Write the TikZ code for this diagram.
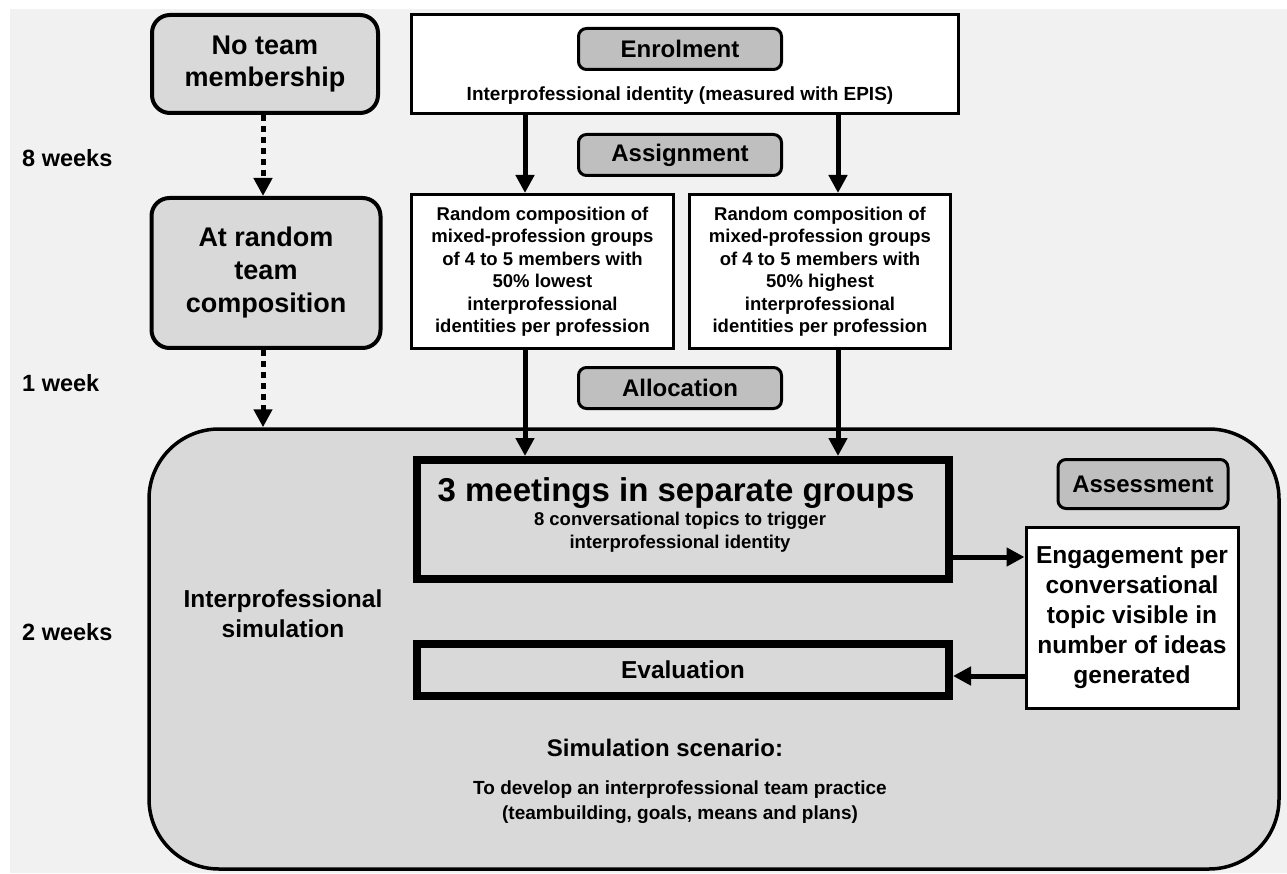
\documentclass[tikz,border=0pt]{standalone}
\usepackage{fontspec}
\setmainfont{Liberation Sans}
\usetikzlibrary{arrows.meta,calc}
\definecolor{bgc}{HTML}{F1F1F1}
\definecolor{boxgray}{HTML}{D9D9D9}
\definecolor{labgray}{HTML}{BFBFBF}
\newcommand{\fs}[2]{\fontsize{#1}{#2}\selectfont}
\begin{document}
\begin{tikzpicture}[x=1pt,y=-1pt,
  every node/.style={font=\bfseries, inner sep=0pt, align=center},
  rbox/.style={draw, line width=4pt, fill=boxgray, rounded corners=18pt},
  wbox/.style={draw, line width=3pt, fill=white},
  tbox/.style={draw, line width=8pt, fill=boxgray},
  lab/.style={draw, line width=3pt, fill=labgray, rounded corners=8pt, minimum width=203pt, minimum height=41pt, font=\bfseries\fs{24}{28}},
  arr/.style={line width=5pt, -{Triangle[width=18pt,length=18pt]}},
  dotarr/.style={line width=5pt, dash pattern=on 6pt off 5pt, -{Triangle[width=18pt,length=18pt]}},
  side/.style={anchor=west, font=\bfseries\fs{23.5}{28}}
]
\useasboundingbox (0,0) rectangle (1287,874);
\fill[white] (0,0) rectangle (1287,874);
\fill[bgc] (10,9) rectangle (1287,873);

% side labels
\node[side] (w8) at (22,158) {8 weeks};
\node[side] (w1) at (22,383) {1 week};
\node[side] (w2) at (22,632) {2 weeks};

% big simulation box
\node[draw, line width=3.5pt, fill=boxgray, rounded corners=70pt, minimum width=1130pt, minimum height=440pt] (sim) at (714,649) {};

% left column
\node[rbox, minimum width=226pt, minimum height=98pt, font=\bfseries\fs{27}{32}] (noteam) at (265,64) {No team\\membership};
\node[rbox, minimum width=229pt, minimum height=150pt, font=\bfseries\fs{27}{33}] (atrandom) at (266,273) {At random\\team\\composition};

% enrolment
\node[wbox, minimum width=547pt, minimum height=99pt] (enrol) at (685,64) {};
\node[lab] (enrollab) at (680,49) {Enrolment};
\node[font=\bfseries\fs{19}{22}] (epis) at (680,96) {Interprofessional identity (measured with EPIS)};
\node[lab] (assignlab) at (680,155) {Assignment};

% random boxes
\node[wbox, minimum width=262pt, minimum height=154pt, font=\bfseries\fs{18.5}{22.5}] (leftbox) at (542.5,271.5) {Random composition of\\mixed-profession groups\\of 4 to 5 members with\\50\% lowest\\interprofessional\\identities per profession};
\node[wbox, minimum width=261pt, minimum height=154pt, font=\bfseries\fs{18.5}{22.5}] (rightbox) at (820,271.5) {Random composition of\\mixed-profession groups\\of 4 to 5 members with\\50\% highest\\interprofessional\\identities per profession};
\node[lab] (alloclab) at (680,388) {Allocation};

% inner boxes
\node[tbox, minimum width=532pt, minimum height=119pt] (meet) at (683,519.5) {};
\node[font=\bfseries\fs{33}{36}] (meettitle) at (676,493) {3 meetings in separate groups};
\node[font=\bfseries\fs{18.5}{23}] (meetsub) at (680,532) {8 conversational topics to trigger\\interprofessional identity};
\node[tbox, minimum width=532pt, minimum height=52pt, font=\bfseries\fs{24.5}{28}] (eval) at (683,670) {Evaluation};
\node[wbox, minimum width=212pt, minimum height=181pt, font=\bfseries\fs{24.5}{30}] (engage) at (1132,618) {Engagement per\\conversational\\topic visible in\\number of ideas\\generated};
\node[lab, minimum width=170pt, minimum height=49pt] (assesslab) at (1143,484) {Assessment};

\node[font=\bfseries\fs{24.5}{30}] (ipsim) at (283,614) {Interprofessional\\simulation};
\node[font=\bfseries\fs{24}{28}] (scen) at (665,748) {Simulation scenario:};
\node[font=\bfseries\fs{19}{25}] (scentext) at (680,802) {To develop an interprofessional team practice\\(teambuilding, goals, means and plans)};

% connectors
\coordinate (xa) at (525,0);
\coordinate (xb) at (838,0);
\coordinate (xd) at (263,0);
\coordinate (ya) at (0,557);
\coordinate (yb) at (0,676);
\draw[arr] (enrol.south -| xa) -- (leftbox.north -| xa);
\draw[arr] (enrol.south -| xb) -- (rightbox.north -| xb);
\draw[arr] (leftbox.south -| xa) -- (meet.north -| xa);
\draw[arr] (rightbox.south -| xb) -- (meet.north -| xb);
\draw[arr] (meet.east |- ya) -- (engage.west |- ya);
\draw[arr] (engage.west |- yb) -- (eval.east |- yb);
\draw[dotarr] (noteam.south -| xd) -- (atrandom.north -| xd);
\draw[dotarr] (atrandom.south -| xd) -- (sim.north -| xd);
\end{tikzpicture}
\end{document}
